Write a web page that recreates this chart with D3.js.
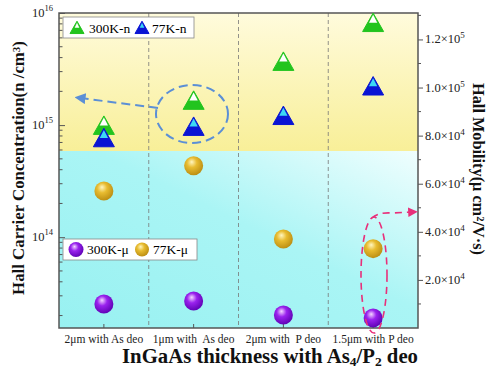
<!DOCTYPE html>
<html>
<head>
<meta charset="utf-8">
<script src="https://cdn.jsdelivr.net/npm/d3@7"></script>
<style>
  body { margin: 0; background: #fff; }
  svg, svg text { font-family: "Liberation Serif", "DejaVu Serif", serif; }
</style>
</head>
<body>
<svg width="490" height="376" font-family="Liberation Serif, DejaVu Serif, serif"></svg>
<script>
const categories = ['2\u03bcm with As deo', '1\u03bcm with  As deo', '2\u03bcm with  P deo', '1.5\u03bcm with P deo']
const n300 = [9.8e14, 1.64e15, 3.65e15, 8.1e15]
const n77 = [7.6e14, 9.6e14, 1.2e15, 2.2e15]
const mu300 = [1.0e4, 1.12e4, 5.4e3, 4.2e3]
const mu77 = [5.7e4, 6.75e4, 3.7e4, 3.3e4]
const leftTicks = [1e14, 1e15, 1e16]
const rightTicks = [2e4, 4e4, 6e4, 8e4, 1e5, 1.2e5]

const margin = { top: 13, right: 72, bottom: 48, left: 59 }
const width = 490
const height = 376
const bottom = height - margin.bottom
const right = width - margin.right

const svg = d3.select('svg')
const defs = svg.append('defs')

// background gradients
const yg = defs.append('linearGradient').attr('id', 'yel').attr('x1', 0).attr('y1', 0).attr('x2', 0).attr('y2', 1)
yg.append('stop').attr('offset', 0).attr('stop-color', '#fffbdc')
yg.append('stop').attr('offset', 1).attr('stop-color', '#f8ef98')
const cg = defs.append('linearGradient').attr('id', 'cya').attr('x1', 0).attr('y1', 1).attr('x2', 1).attr('y2', 0)
cg.append('stop').attr('offset', 0).attr('stop-color', '#98f1f1')
cg.append('stop').attr('offset', 0.55).attr('stop-color', '#aaf5f5')
cg.append('stop').attr('offset', 1).attr('stop-color', '#f0fefe')

// sphere gradients
function sphere(id, hi, mid, lo) {
  const g = defs.append('radialGradient').attr('id', id)
    .attr('cx', 0.42).attr('cy', 0.4).attr('r', 0.65).attr('fx', 0.4).attr('fy', 0.3)
  g.append('stop').attr('offset', 0).attr('stop-color', hi)
  g.append('stop').attr('offset', 0.4).attr('stop-color', mid)
  g.append('stop').attr('offset', 1).attr('stop-color', lo)
}
sphere('purp', '#f4d8ff', '#9a22ee', '#5a00b0')
sphere('gold', '#fff6c0', '#e8bc30', '#b88a10')

const x = d3.scaleBand().domain(categories).range([margin.left, right]).padding(0)
const yL = d3.scaleLog().domain([10 ** 13.19, 1e16]).range([bottom, margin.top])
const yR = d3.scaleLinear().domain([0, 1.31e5]).range([bottom, margin.top])

const split = 151
svg.append('rect').attr('x', margin.left).attr('y', margin.top)
  .attr('width', right - margin.left).attr('height', split - margin.top).attr('fill', 'url(#yel)')
svg.append('rect').attr('x', margin.left).attr('y', split)
  .attr('width', right - margin.left).attr('height', bottom - split).attr('fill', 'url(#cya)')

// dividers
svg.selectAll('line.div')
  .data(categories.slice(1))
  .enter().append('line')
  .attr('x1', d => x(d)).attr('x2', d => x(d))
  .attr('y1', margin.top).attr('y2', bottom)
  .attr('stroke', '#777').attr('stroke-width', 0.8).attr('stroke-dasharray', '4,3')

// left log axis (inward ticks)
const leftAxis = d3.axisLeft(yL).tickValues(leftTicks).tickSize(-6).tickFormat('')
svg.append('g').attr('transform', `translate(${margin.left},0)`).call(leftAxis)
const minor = []
for (let e = 13; e < 16; e++) for (let m = 2; m <= 9; m++) {
  const v = m * 10 ** e
  if (v > yL.domain()[0]) minor.push(v)
}
svg.append('g').selectAll('line')
  .data(minor).enter().append('line')
  .attr('x1', margin.left).attr('x2', margin.left + 3.5)
  .attr('y1', d => yL(d)).attr('y2', d => yL(d))
  .attr('stroke', '#555')
const ll = svg.append('g').selectAll('text')
  .data(leftTicks).enter().append('text')
  .attr('x', 53).attr('y', d => yL(d) + 4)
  .attr('text-anchor', 'end').attr('font-size', 12.5).attr('fill', '#222')
ll.append('tspan').text('10')
ll.append('tspan').attr('dy', -6).attr('font-size', 8.5).text(d => Math.log10(d))

// right axis (outward ticks)
const rightAxis = d3.axisRight(yR).tickValues(rightTicks).tickSize(5).tickFormat('')
svg.append('g').attr('transform', `translate(${right},0)`).call(rightAxis)
svg.append('g').selectAll('line')
  .data(d3.range(1e4, 1.31e5, 2e4)).enter().append('line')
  .attr('x1', right).attr('x2', right + 3)
  .attr('y1', d => yR(d)).attr('y2', d => yR(d))
  .attr('stroke', '#555')
const rl = svg.append('g').selectAll('text')
  .data(rightTicks).enter().append('text')
  .attr('x', right + 7).attr('y', d => yR(d) + 4)
  .attr('font-size', 12.5).attr('fill', '#222')
rl.append('tspan').text(d => {
  const e = Math.floor(Math.log10(d))
  return (d / 10 ** e).toFixed(1) + '\u00d710'
})
rl.append('tspan').attr('dy', -5).attr('font-size', 9).text(d => Math.floor(Math.log10(d)))

// bottom axis
const xAxis = d3.axisBottom(x).tickSize(-4).tickFormat('')
svg.append('g').attr('transform', `translate(0,${bottom})`).call(xAxis)
svg.append('g').selectAll('text')
  .data(categories).enter().append('text')
  .attr('x', d => x(d) + x.bandwidth() / 2).attr('y', bottom + 15)
  .attr('text-anchor', 'middle').attr('font-size', 11.5).attr('fill', '#222')
  .style('white-space', 'pre')
  .text(d => d)

svg.selectAll('.domain').remove()
svg.selectAll('.tick line').attr('stroke', '#555')

// frame
svg.append('rect').attr('x', margin.left).attr('y', margin.top)
  .attr('width', right - margin.left).attr('height', bottom - margin.top)
  .attr('fill', 'none').attr('stroke', '#555').attr('stroke-width', 1.5)

// markers
function tri(g, cx, cy, s, top, base, edge) {
  const h = s * 0.88
  const ax = cx, ay = cy - h * 0.55
  const by = cy + h * 0.45
  g.append('polygon')
    .attr('points', `${ax},${ay} ${cx - s / 2},${by} ${cx + s / 2},${by}`)
    .attr('fill', base).attr('stroke', edge).attr('stroke-width', 1)
  const f = 0.52
  const cutY = ay + h * f
  const hw = s / 2 * f
  g.append('polygon')
    .attr('points', `${ax},${ay + 1.6} ${cx - hw + 1.3},${cutY} ${cx + hw - 1.3},${cutY}`)
    .attr('fill', top)
}

const cx = d => x(d) + x.bandwidth() / 2
const marks = svg.append('g')
categories.forEach((c, i) => {
  tri(marks, cx(c), yL(n300[i]), 21, '#ffffff', '#22c41e', '#22c41e')
  tri(marks, cx(c), yL(n77[i]), 21, '#3cd8f4', '#0a14d4', '#0a14d4')
})
marks.selectAll('circle.g')
  .data(mu77).enter().append('circle')
  .attr('cx', (d, i) => cx(categories[i])).attr('cy', d => yR(d))
  .attr('r', 9.5).attr('fill', 'url(#gold)')
marks.selectAll('circle.p')
  .data(mu300).enter().append('circle')
  .attr('cx', (d, i) => cx(categories[i])).attr('cy', d => yR(d))
  .attr('r', 9.5).attr('fill', 'url(#purp)')

// legends
const lg1 = svg.append('g')
lg1.append('rect').attr('x', 63).attr('y', 17).attr('width', 131).attr('height', 21)
  .attr('fill', '#fff').attr('stroke', '#888').attr('stroke-width', 0.8)
tri(lg1, 77, 28, 14, '#ffffff', '#22c41e', '#22c41e')
lg1.append('text').attr('x', 89).attr('y', 33).attr('font-size', 13.5).text('300K-n')
tri(lg1, 142, 28, 14, '#3cd8f4', '#0a14d4', '#0a14d4')
lg1.append('text').attr('x', 152).attr('y', 33).attr('font-size', 13.5).text('77K-n')

const lg2 = svg.append('g')
lg2.append('rect').attr('x', 63).attr('y', 239).attr('width', 134).attr('height', 21)
  .attr('fill', '#fff').attr('stroke', '#888').attr('stroke-width', 0.8)
lg2.append('circle').attr('cx', 76).attr('cy', 249.5).attr('r', 7.5).attr('fill', 'url(#purp)')
lg2.append('text').attr('x', 87).attr('y', 254).attr('font-size', 13.5).text('300K-\u03bc')
lg2.append('circle').attr('cx', 142).attr('cy', 249.5).attr('r', 7).attr('fill', 'url(#gold)')
lg2.append('text').attr('x', 153).attr('y', 254).attr('font-size', 13.5).text('77K-\u03bc')

// annotations
defs.append('marker').attr('id', 'ab').attr('viewBox', '0 0 10 10').attr('refX', 5).attr('refY', 5)
  .attr('markerWidth', 5.5).attr('markerHeight', 5.5).attr('orient', 'auto')
  .append('path').attr('d', 'M0,0 L10,5 L0,10 Z').attr('fill', '#5b8fd6')
defs.append('marker').attr('id', 'ap').attr('viewBox', '0 0 10 10').attr('refX', 5).attr('refY', 5)
  .attr('markerWidth', 6).attr('markerHeight', 6).attr('orient', 'auto')
  .append('path').attr('d', 'M0,0 L10,5 L0,10 Z').attr('fill', '#e8307a')

svg.append('ellipse').attr('cx', 192).attr('cy', 114).attr('rx', 36).attr('ry', 29)
  .attr('fill', 'none').attr('stroke', '#5b8fd6').attr('stroke-width', 2).attr('stroke-dasharray', '9,5')
svg.append('path').attr('d', 'M158,108 L80,98')
  .attr('fill', 'none').attr('stroke', '#5b8fd6').attr('stroke-width', 2).attr('stroke-dasharray', '9,5')
  .attr('marker-end', 'url(#ab)')

svg.append('ellipse').attr('cx', 374).attr('cy', 275).attr('rx', 13).attr('ry', 58)
  .attr('fill', 'none').attr('stroke', '#e8307a').attr('stroke-width', 1.6).attr('stroke-dasharray', '7,5')
svg.append('path').attr('d', 'M372,218 Q378,212 392,213 L413,212')
  .attr('fill', 'none').attr('stroke', '#e8307a').attr('stroke-width', 1.6).attr('stroke-dasharray', '7,5')
  .attr('marker-end', 'url(#ap)')

// scale a title so its length matches the reference
function fit(t, len) {
  const l = t.node().getComputedTextLength()
  t.attr('font-size', 20 * len / l)
}

// axis titles
const tL = svg.append('text')
  .attr('transform', `translate(24,168) rotate(-90)`)
  .attr('text-anchor', 'middle').attr('font-size', 20).attr('font-weight', 'bold').attr('fill', '#111')
tL.append('tspan').text('Hall Carrier Concentration(n /cm')
tL.append('tspan').attr('dy', '-0.4em').attr('font-size', '0.65em').text('3')
tL.append('tspan').attr('dy', '0.26em').text(')')
fit(tL, 254)

const tR = svg.append('text')
  .attr('transform', `translate(473,169) rotate(90)`)
  .attr('text-anchor', 'middle').attr('font-size', 20).attr('font-weight', 'bold').attr('fill', '#111')
tR.append('tspan').text('Hall Mobility(\u03bc cm')
tR.append('tspan').attr('dy', '-0.4em').attr('font-size', '0.65em').text('2')
tR.append('tspan').attr('dy', '0.26em').text('/V\u00b7s)')
fit(tR, 172)

const tX = svg.append('text')
  .attr('x', 270).attr('y', 363)
  .attr('text-anchor', 'middle').attr('font-size', 20).attr('font-weight', 'bold').attr('fill', '#111')
tX.append('tspan').text('InGaAs thickness with As')
tX.append('tspan').attr('dy', '0.25em').attr('font-size', '0.65em').text('4')
tX.append('tspan').attr('dy', '-0.16em').text('/P')
tX.append('tspan').attr('dy', '0.25em').attr('font-size', '0.65em').text('2')
tX.append('tspan').attr('dy', '-0.16em').text(' deo')
fit(tX, 296)
</script>
</body>
</html>
